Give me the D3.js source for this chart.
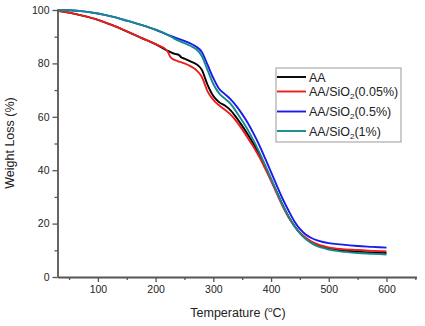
<!DOCTYPE html>
<html>
<head>
<meta charset="utf-8">
<script src="https://cdn.jsdelivr.net/npm/d3@7"></script>
<style>
  body { margin: 0; background: #fff; }
  svg { display: block; }
  text { font-family: "Liberation Sans", Arial, sans-serif; fill: #222; }
</style>
</head>
<body>
<svg id="chart" width="425" height="326"></svg>
<script>
// ---- data ----
const temperatures = [30,50,75,100,125,150,175,200,220,225,230,235,240,245,250,260,270,280,290,300,310,320,330,340,350,360,370,380,390,400,410,420,430,440,450,460,470,480,490,500,520,550,575,600];

const seriesAA =     [99.7,99.0,97.8,96.3,94.3,92.0,89.6,87.2,84.8,84.3,83.8,83.5,83.2,82.2,81.8,80.8,79.8,77.6,72.0,67.8,65.5,64.2,62.4,59.7,56.6,53.3,49.7,45.7,41.3,36.6,31.8,27.0,22.8,19.3,16.5,14.5,13.0,12.0,11.2,10.6,10.0,9.5,9.2,9.0];
const seriesSi005 =  [99.7,99.0,97.8,96.3,94.3,92.0,89.6,87.2,84.8,82.6,81.6,81.1,80.7,80.4,80.0,79.0,77.6,75.0,69.5,66.3,64.3,62.6,60.8,58.3,55.3,52.0,48.6,44.8,40.5,36.0,31.2,26.6,22.5,19.2,16.6,14.7,13.3,12.3,11.6,11.1,10.5,10.1,9.8,9.6];
const seriesSi05 =   [100,99.9,99.5,98.7,97.5,96.0,94.4,92.6,90.8,90.4,90.0,89.6,89.2,88.8,88.4,87.5,86.3,84.3,79.5,74.5,70.5,68.5,66.5,64.0,61.0,57.6,53.6,49.2,44.3,39.3,34.2,29.3,25.0,21.0,18.0,15.9,14.6,13.7,13.1,12.7,12.2,11.6,11.3,11.0];
const seriesSi1 =    [100,99.9,99.5,98.7,97.5,96.0,94.4,92.6,90.8,90.2,89.6,89.0,88.5,88.0,87.6,86.6,85.4,82.8,77.5,72.3,68.8,66.8,64.8,61.8,58.5,55.0,51.0,46.6,41.8,36.8,31.8,27.0,22.8,19.2,16.3,14.2,12.7,11.6,10.9,10.3,9.6,9.0,8.7,8.4];

const legendNames = [
  {base: "AA", sub: null, rest: ""},
  {base: "AA/SiO", sub: "2", rest: "(0.05%)"},
  {base: "AA/SiO", sub: "2", rest: "(0.5%)"},
  {base: "AA/SiO", sub: "2", rest: "(1%)"}
];
const colors = ["#000000", "#ee1c1c", "#1a1aee", "#148a8c"];
const allSeries = [seriesAA, seriesSi005, seriesSi05, seriesSi1];

const xMajor = [100,200,300,400,500,600];
const xMinor = [50,150,250,350,450,550,650];
const yMajor = [0,20,40,60,80,100];
const yMinor = [10,30,50,70,90];

// ---- layout ----
const svg = d3.select("#chart");
const x = d3.scaleLinear().domain([30, 652]).range([57.5, 416.5]);
const y = d3.scaleLinear().domain([0, 100]).range([277, 10]);
const axisColor = "#555";

// curves (draw order: black, blue, red, teal)
const line = d3.line()
  .x((d, i) => x(temperatures[i]))
  .y(d => y(d))
  .curve(d3.curveMonotoneX);

[0, 2, 1, 3].forEach(k => {
  svg.append("path")
    .attr("d", line(allSeries[k]))
    .attr("fill", "none")
    .attr("stroke", colors[k])
    .attr("stroke-width", 1.9)
    .attr("stroke-linejoin", "round");
});

// x axis
const gx = svg.append("g").attr("transform", `translate(0,${y(0)})`);
gx.call(d3.axisBottom(x).tickValues(xMajor).tickSize(5).tickSizeOuter(0).tickPadding(4).tickFormat(d3.format("d")));
gx.append("g").call(d3.axisBottom(x).tickValues(xMinor).tickSize(3).tickFormat(""))
  .select(".domain").remove();
// y axis
const gy = svg.append("g").attr("transform", `translate(${x(30)},0)`);
gy.call(d3.axisLeft(y).tickValues(yMajor).tickSize(5).tickSizeOuter(0).tickPadding(3).tickFormat(d3.format("d")));
gy.append("g").call(d3.axisLeft(y).tickValues(yMinor).tickSize(3).tickFormat(""))
  .select(".domain").remove();

svg.selectAll(".domain").attr("stroke", axisColor).attr("stroke-width", 1.8);
svg.selectAll(".tick line").attr("stroke", axisColor).attr("stroke-width", 1.3);
svg.selectAll(".tick text").attr("font-size", 10.5).attr("fill", "#333")
  .attr("font-family", '"Liberation Sans", Arial, sans-serif');

// axis titles
const xt = svg.append("text")
  .attr("x", (x.range()[0] + x.range()[1]) / 2 + 1)
  .attr("y", 317)
  .attr("text-anchor", "middle")
  .attr("font-size", 12.5);
xt.append("tspan").text("Temperature (");
xt.append("tspan").text("o").attr("font-size", 8).attr("dy", -5);
xt.append("tspan").text("C)").attr("dy", 5);

svg.append("text")
  .attr("transform", "translate(14,143) rotate(-90)")
  .attr("text-anchor", "middle")
  .attr("font-size", 12.5)
  .text("Weight Loss (%)");

// legend
const lg = svg.append("g");
lg.append("rect").attr("x", 276).attr("y", 68).attr("width", 125).attr("height", 74)
  .attr("fill", "#fff").attr("stroke", "#999").attr("stroke-width", 1);
const rowY = [77, 91.5, 111.5, 131];
legendNames.forEach((n, i) => {
  lg.append("line").attr("x1", 277).attr("x2", 306).attr("y1", rowY[i]).attr("y2", rowY[i])
    .attr("stroke", colors[i]).attr("stroke-width", 1.9);
  const t = lg.append("text").attr("x", 309).attr("y", rowY[i] + 4.5).attr("font-size", 12.5);
  t.append("tspan").text(n.base);
  if (n.sub) {
    t.append("tspan").text(n.sub).attr("font-size", 8).attr("dy", 3);
    t.append("tspan").text(n.rest).attr("dy", -3);
  }
});
</script>
</body>
</html>
